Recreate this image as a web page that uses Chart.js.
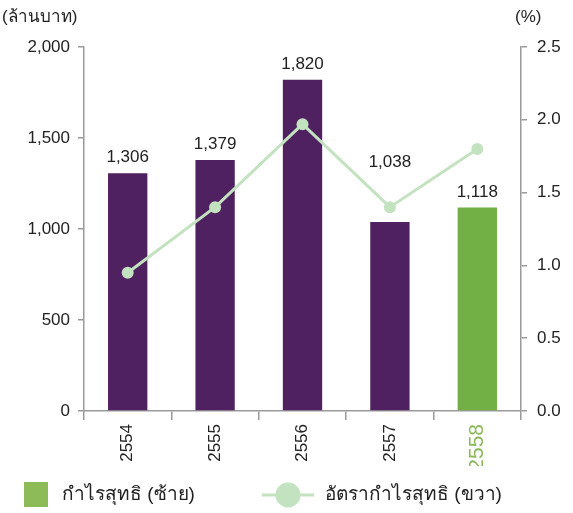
<!DOCTYPE html>
<html>
<head>
<meta charset="utf-8">
<script src="https://cdn.jsdelivr.net/npm/chart.js@4"></script>
<style>
  body { margin: 0; background: #fff; }
  #wrap { width: 573px; height: 513px; }
</style>
</head>
<body>
<div id="wrap"><canvas id="myChart" width="573" height="513"></canvas></div>
<script>
const years = ["2554", "2555", "2556", "2557", "2558"];
const netProfit = [1306, 1379, 1820, 1038, 1118];
const profitRate = [0.95, 1.40, 1.97, 1.40, 1.80];
const leftTicks = [0, 500, 1000, 1500, 2000];
const rightTicks = [0, 0.5, 1.0, 1.5, 2.0, 2.5];

const FONT = "Helvetica, Arial, 'Liberation Sans', sans-serif";
const purple = '#4f2160';
const green = '#72af44';
const lineGreen = '#c3e2c0';
const axisGray = '#9a9a9a';

const canvas = document.getElementById('myChart');

// value labels on top of bars + titles + legend
const extras = {
  id: 'extras',
  afterDatasetsDraw(chart) {
    const ctx = chart.ctx;
    const bars = chart.getDatasetMeta(0).data;
    const points = chart.getDatasetMeta(1).data;
    ctx.save();
    ctx.font = '17px ' + FONT;
    ctx.fillStyle = '#222';
    ctx.textAlign = 'center';
    ctx.textBaseline = 'bottom';
    bars.forEach((bar, i) => {
      let y = bar.y - 7;
      const p = points[i];
      // if the line point would sit on the label, lift the label above the point
      if (p && p.y < bar.y && p.y > y - 30) y = p.y - 36;
      ctx.fillText(netProfit[i].toLocaleString('en-US'), bar.x, y);
    });
    ctx.restore();
  },
  afterDraw(chart) {
    const ctx = chart.ctx;
    ctx.save();
    ctx.fillStyle = '#222';
    ctx.font = '17px ' + FONT;
    ctx.textBaseline = 'middle';
    ctx.textAlign = 'left';
    ctx.fillText('(ล้านบาท)', 2, 17);
    ctx.fillText('(%)', 515, 17);

    // legend
    ctx.fillStyle = '#8cbb57';
    ctx.fillRect(24, 482, 24, 25);
    ctx.strokeStyle = lineGreen;
    ctx.lineWidth = 3;
    ctx.beginPath();
    ctx.moveTo(262, 495);
    ctx.lineTo(314, 495);
    ctx.stroke();
    ctx.fillStyle = lineGreen;
    ctx.beginPath();
    ctx.arc(288, 495, 12.5, 0, Math.PI * 2);
    ctx.fill();
    ctx.fillStyle = '#222';
    ctx.font = '19px ' + FONT;
    ctx.fillText('กำไรสุทธิ (ซ้าย)', 62, 495);
    ctx.fillText('อัตรากำไรสุทธิ (ขวา)', 325, 495);
    ctx.restore();
  }
};

const config = {
  type: 'bar',
  data: {
    labels: years,
    datasets: [
      {
        type: 'bar',
        label: 'กำไรสุทธิ (ซ้าย)',
        data: netProfit,
        backgroundColor: netProfit.map((v, i) => i === netProfit.length - 1 ? green : purple),
        barPercentage: 0.45,
        categoryPercentage: 1,
        yAxisID: 'y',
        order: 2
      },
      {
        type: 'line',
        label: 'อัตรากำไรสุทธิ (ขวา)',
        data: profitRate,
        borderColor: lineGreen,
        backgroundColor: lineGreen,
        borderWidth: 3,
        pointRadius: 6,
        pointBackgroundColor: lineGreen,
        pointBorderWidth: 0,
        tension: 0,
        yAxisID: 'y1',
        order: 1
      }
    ]
  },
  options: {
    responsive: false,
    animation: false,
    layout: { padding: { top: 47, bottom: 47, left: 0, right: 0 } },
    plugins: {
      legend: { display: false },
      tooltip: { enabled: false }
    },
    scales: {
      x: {
        grid: { display: true, drawOnChartArea: false, offset: true, tickLength: 9, color: axisGray, lineWidth: 1.5 },
        border: { color: axisGray, width: 1.5 },
        ticks: {
          maxRotation: 90,
          minRotation: 90,
          padding: 4,
          color: ctx => ctx.index === years.length - 1 ? '#8ab85a' : '#222',
          font: ctx => ({ family: FONT, size: ctx.index === years.length - 1 ? 21 : 17 })
        },
        afterFit(scale) { scale.height = 55; }
      },
      y: {
        position: 'left',
        min: 0,
        max: 2000,
        afterBuildTicks(scale) { scale.ticks = leftTicks.map(v => ({ value: v })); },
        grid: { display: true, drawOnChartArea: false, tickLength: 6, color: axisGray, lineWidth: 1.5 },
        border: { color: axisGray, width: 1.5 },
        ticks: {
          padding: 8,
          color: '#222',
          font: { family: FONT, size: 17 },
          callback: v => v.toLocaleString('en-US')
        },
        afterFit(scale) { scale.width = 84; }
      },
      y1: {
        position: 'right',
        min: 0,
        max: 2.5,
        afterBuildTicks(scale) { scale.ticks = rightTicks.map(v => ({ value: v })); },
        grid: { display: true, drawOnChartArea: false, tickLength: 6, color: axisGray, lineWidth: 1.5 },
        border: { color: axisGray, width: 1.5 },
        ticks: {
          padding: 10,
          color: '#222',
          font: { family: FONT, size: 17 },
          callback: v => v.toFixed(1)
        },
        afterFit(scale) { scale.width = 52; }
      }
    }
  },
  plugins: [extras]
};

const chartObject = new Chart(canvas, config);
</script>
</body>
</html>
